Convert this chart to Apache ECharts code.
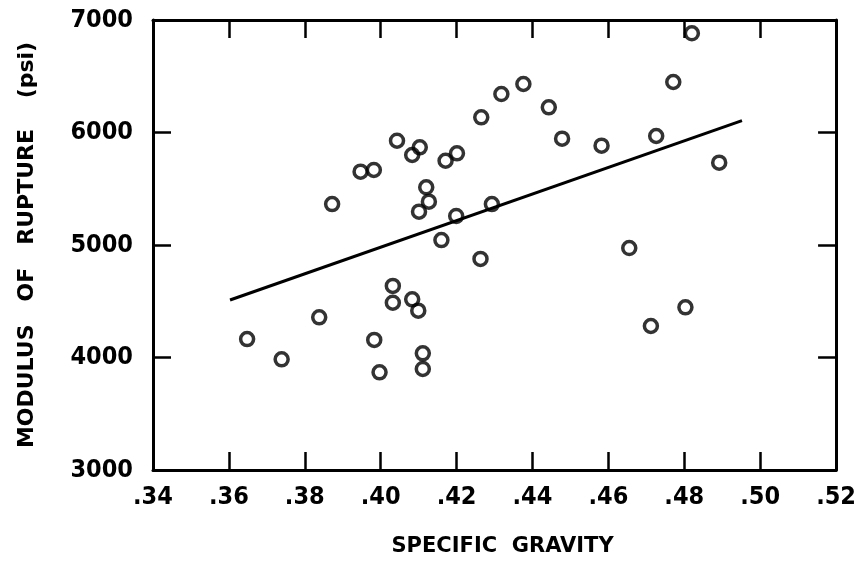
<!DOCTYPE html>
<html>
<head>
<meta charset="utf-8">
<script src="https://cdn.jsdelivr.net/npm/echarts@6/dist/echarts.min.js"></script>
<style>
  html, body { margin: 0; padding: 0; background: #fff; }
  #main { width: 859px; height: 563px; }
</style>
</head>
<body>
<div id="main"></div>
<script>
// specific gravity of each sample
var gravity = [0.3648, 0.3739, 0.3838, 0.3872, 0.3947, 0.3982, 0.3983, 0.3997, 0.4032, 0.4032,
  0.4043, 0.4083, 0.4103, 0.4083, 0.4099, 0.4101, 0.4111, 0.4111, 0.4120, 0.4127,
  0.4160, 0.4171, 0.4201, 0.4199, 0.4265, 0.4263, 0.4293, 0.4318, 0.4376, 0.4443,
  0.4478, 0.4582, 0.4655, 0.4712, 0.4726, 0.4771, 0.4803, 0.4820, 0.4892];
// modulus of rupture (psi)
var rupture = [4164, 3984, 4357, 5364, 5652, 5667, 4156, 3868, 4636, 4487,
  5927, 5800, 5868, 4517, 4416, 5296, 4037, 3898, 5513, 5385,
  5044, 5749, 5815, 5258, 6135, 4876, 5364, 6342, 6431, 6224,
  5945, 5883, 4973, 4280, 5969, 6449, 4446, 6882, 5732];
// fitted line end points
var fitX = [0.3603, 0.4952];
var fitY = [4511, 6105];

var xTicks = { min: 0.34, max: 0.52, interval: 0.02 };
var yTicks = { min: 3000, max: 7000, interval: 1000 };

var points = gravity.map(function (g, i) { return [g, rupture[i]]; });
var fitLine = fitX.map(function (x, i) { return [x, fitY[i]]; });

var myChart = echarts.init(document.getElementById('main'));
var font = '"DejaVu Sans Condensed", "DejaVu Sans", sans-serif';
var nameFont = '"DejaVu Sans", sans-serif';
var lineStyle = { color: '#000', width: 3 };
var tickStyle = { show: true, inside: true, length: 18, lineStyle: { color: '#000', width: 2.5 } };

var option = {
  backgroundColor: '#fff',
  animation: false,
  grid: { left: 153, top: 20, right: 22, bottom: 93 },
  xAxis: [
    {
      type: 'value', min: xTicks.min, max: xTicks.max, interval: xTicks.interval,
      name: 'SPECIFIC  GRAVITY', nameLocation: 'middle', nameGap: 66,
      nameTextStyle: { color: '#000', fontFamily: nameFont, fontWeight: 'bold', fontSize: 21, padding: [0, 0, 0, 16] },
      axisLine: { show: true, lineStyle: lineStyle },
      axisTick: tickStyle,
      axisLabel: {
        margin: 15, color: '#000', fontFamily: font, fontWeight: 'bold', fontSize: 25,
        showMinLabel: true, showMaxLabel: true,
        formatter: function (v) { return '.' + v.toFixed(2).slice(2); }
      },
      splitLine: { show: false }
    },
    {
      type: 'value', position: 'top', min: xTicks.min, max: xTicks.max, interval: xTicks.interval,
      axisLine: { show: true, lineStyle: lineStyle },
      axisTick: tickStyle,
      axisLabel: { show: false },
      splitLine: { show: false }
    }
  ],
  yAxis: [
    {
      type: 'value', min: yTicks.min, max: yTicks.max, interval: yTicks.interval,
      name: 'MODULUS   OF   RUPTURE    (psi)', nameLocation: 'middle', nameGap: 115, nameRotate: 90,
      nameTextStyle: { color: '#000', fontFamily: nameFont, fontWeight: 'bold', fontSize: 22 },
      axisLine: { show: true, lineStyle: lineStyle },
      axisTick: tickStyle,
      axisLabel: {
        margin: 20, color: '#000', fontFamily: font, fontWeight: 'bold', fontSize: 25,
        formatter: function (v) { return String(v); }
      },
      splitLine: { show: false }
    },
    {
      type: 'value', position: 'right', min: yTicks.min, max: yTicks.max, interval: yTicks.interval,
      axisLine: { show: true, lineStyle: lineStyle },
      axisTick: tickStyle,
      axisLabel: { show: false },
      splitLine: { show: false }
    }
  ],
  series: [
    {
      type: 'line',
      data: fitLine,
      symbol: 'none',
      lineStyle: { color: '#000', width: 3 },
      z: 2
    },
    {
      type: 'scatter',
      data: points,
      symbol: 'circle',
      symbolSize: 13,
      itemStyle: { color: 'rgba(0,0,0,0)', borderColor: '#000', borderWidth: 3.5 },
      z: 3
    }
  ]
};

myChart.setOption(option);
</script>
</body>
</html>
